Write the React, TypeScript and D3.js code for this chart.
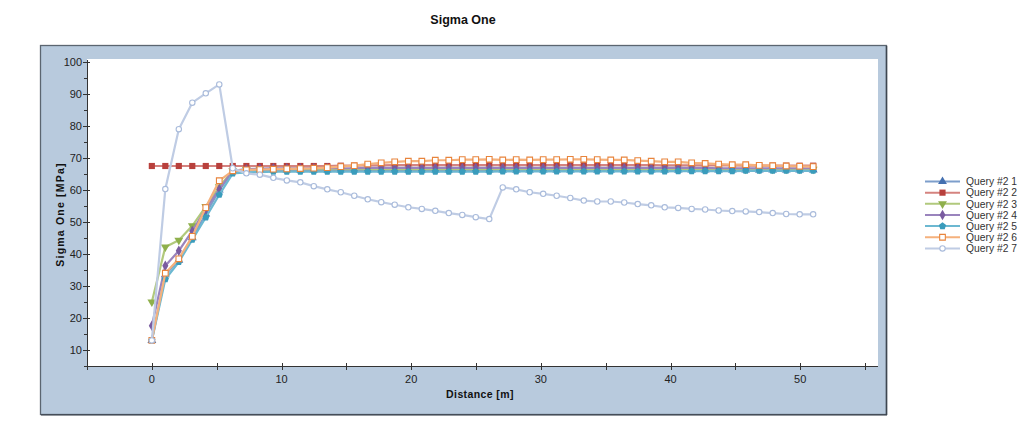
import React from "react";
import * as d3 from "d3";

const title = "Sigma One";
const xTitle = "Distance [m]";
const yTitle = "Sigma One [MPa]";

const distance = [
  0, 1.04, 2.08, 3.12, 4.16, 5.2, 6.24, 7.29, 8.33, 9.37,
  10.41, 11.45, 12.49, 13.53, 14.57, 15.61, 16.65, 17.69, 18.73, 19.78,
  20.82, 21.86, 22.9, 23.94, 24.98, 26.02, 27.06, 28.1, 29.14, 30.18,
  31.22, 32.27, 33.31, 34.35, 35.39, 36.43, 37.47, 38.51, 39.55, 40.59,
  41.63, 42.67, 43.71, 44.76, 45.8, 46.84, 47.88, 48.92, 49.96, 51.0,
];

const query1 = [
  13, 33.5, 38.1, 45.1, 52.5, 60.0, 65.8, 66.1, 66.2, 66.3,
  66.3, 66.3, 66.3, 66.3, 66.3, 66.3, 66.3, 66.3, 66.3, 66.3,
  66.3, 66.3, 66.3, 66.3, 66.3, 66.3, 66.3, 66.3, 66.3, 66.3,
  66.3, 66.3, 66.3, 66.3, 66.3, 66.3, 66.3, 66.3, 66.3, 66.3,
  66.3, 66.3, 66.3, 66.3, 66.3, 66.3, 66.3, 66.3, 66.3, 66.3,
];
const query2 = [
  67.5, 67.5, 67.5, 67.5, 67.5, 67.5, 67.5, 67.5, 67.5, 67.5,
  67.5, 67.5, 67.5, 67.5, 67.6, 67.6, 67.7, 67.7, 67.8, 67.8,
  67.8, 67.8, 67.8, 67.8, 67.8, 67.8, 67.8, 67.8, 67.8, 67.8,
  67.8, 67.8, 67.8, 67.8, 67.8, 67.8, 67.8, 67.8, 67.7, 67.7,
  67.7, 67.7, 67.7, 67.7, 67.6, 67.6, 67.6, 67.6, 67.6, 67.6,
];
const query3 = [
  25.0, 42.2, 44.3, 48.8, 54.8, 61.0, 66.0, 66.4, 66.5, 66.5,
  66.5, 66.5, 66.5, 66.5, 66.5, 66.5, 66.5, 66.5, 66.5, 66.5,
  66.5, 66.5, 66.5, 66.5, 66.5, 66.5, 66.5, 66.5, 66.5, 66.5,
  66.5, 66.5, 66.5, 66.5, 66.5, 66.5, 66.5, 66.5, 66.5, 66.5,
  66.5, 66.5, 66.5, 66.5, 66.5, 66.5, 66.5, 66.5, 66.5, 66.5,
];
const query4 = [
  17.6, 36.3, 41.0, 47.2, 54.0, 60.3, 66.0, 66.5, 66.7, 66.8,
  66.8, 66.8, 66.8, 66.8, 66.8, 66.8, 66.9, 66.9, 66.9, 66.9,
  66.9, 66.9, 66.9, 66.9, 66.9, 66.9, 66.9, 66.9, 66.9, 66.9,
  66.9, 66.9, 66.9, 66.9, 66.9, 66.9, 66.9, 66.9, 66.9, 66.9,
  66.9, 66.9, 66.8, 66.8, 66.8, 66.8, 66.8, 66.8, 66.8, 66.8,
];
const query5 = [
  13, 32.1, 37.5, 44.5, 51.4, 58.5, 65.2, 65.5, 65.6, 65.7,
  65.7, 65.7, 65.7, 65.7, 65.7, 65.7, 65.7, 65.7, 65.7, 65.7,
  65.7, 65.7, 65.7, 65.7, 65.7, 65.7, 65.8, 65.8, 65.8, 65.8,
  65.8, 65.8, 65.8, 65.8, 65.8, 65.8, 65.8, 65.8, 65.8, 65.9,
  65.9, 65.9, 65.9, 65.9, 66.0, 66.0, 66.0, 66.0, 66.0, 66.0,
];
const query6 = [
  13, 34.0, 38.5, 45.5, 54.5, 62.9, 66.0, 66.3, 66.4, 66.5,
  66.6, 66.7, 66.8, 67.0, 67.3, 67.6, 68.1, 68.5, 68.8, 69.0,
  69.0, 69.3, 69.3, 69.5, 69.5, 69.6, 69.4, 69.5, 69.4, 69.5,
  69.5, 69.6, 69.6, 69.5, 69.4, 69.4, 69.2, 69.0, 68.8, 68.8,
  68.5, 68.3, 68.1, 67.9, 67.9, 67.7, 67.6, 67.5, 67.4, 67.3,
];
const query7 = [
  13, 60.3, 79.0, 87.3, 90.2, 93.0, 66.8, 65.2, 64.8, 63.8,
  63.0, 62.4, 61.2, 60.2, 59.3, 58.2, 57.1, 56.2, 55.4, 54.6,
  54.1, 53.5, 52.8, 52.2, 51.5, 50.9, 60.8, 60.2, 59.3, 58.8,
  58.2, 57.5, 56.7, 56.4, 56.4, 56.1, 55.6, 55.2, 54.6, 54.4,
  54.1, 53.9, 53.6, 53.4, 53.3, 53.1, 52.8, 52.5, 52.4, 52.4,
];

const seriesNames = ["Query #2 1", "Query #2 2", "Query #2 3", "Query #2 4", "Query #2 5", "Query #2 6", "Query #2 7"];
const seriesValues = [query1, query2, query3, query4, query5, query6, query7];
const lineColors = ["#7d9ecb", "#d5837f", "#b1c97c", "#9a84bd", "#6cb8d1", "#f5b17c", "#bfcce4"];
const markerColors = ["#4470b0", "#b8403c", "#8fb04c", "#7a5ca0", "#3a9cbc", "#e8843c", "#a9bbdb"];
const markerKinds = ["triUp", "square", "triDown", "diamond", "pentagon", "openSquare", "openCircle"];

const yTicks = [10, 20, 30, 40, 50, 60, 70, 80, 90, 100];
const yMinor = [5, 15, 25, 35, 45, 55, 65, 75, 85, 95];
const xTicks = [0, 10, 20, 30, 40, 50];
const xMinor = [-5, 5, 15, 25, 35, 45, 55];

const W = 1023;
const H = 434;
const plot = { left: 87, right: 878, top: 59, bottom: 366 };

const x = d3.scaleLinear().domain([-5, 56]).range([plot.left, plot.right]);
const y = d3.scaleLinear().domain([5, 100]).range([plot.bottom, 62]);

const font = "Arial, 'Liberation Sans', sans-serif";

function pentagonPath(r: number) {
  const pts: [number, number][] = [];
  for (let i = 0; i < 5; i++) {
    const a = -Math.PI / 2 + (i * 2 * Math.PI) / 5;
    pts.push([r * Math.cos(a), r * Math.sin(a)]);
  }
  return "M" + pts.map((p) => p.join(",")).join("L") + "Z";
}

function Marker({ kind, color, cx, cy }: { kind: string; color: string; cx: number; cy: number }) {
  const t = `translate(${cx},${cy})`;
  if (kind === "triUp") {
    return <path transform={t} d={d3.symbol().type(d3.symbolTriangle).size(34)()!} fill={color} />;
  }
  if (kind === "triDown") {
    return <path transform={t + " rotate(180)"} d={d3.symbol().type(d3.symbolTriangle).size(34)()!} fill={color} />;
  }
  if (kind === "square") {
    return <path transform={t} d={d3.symbol().type(d3.symbolSquare).size(38)()!} fill={color} />;
  }
  if (kind === "diamond") {
    return <path transform={t} d={d3.symbol().type(d3.symbolDiamond).size(32)()!} fill={color} />;
  }
  if (kind === "pentagon") {
    return <path transform={t} d={pentagonPath(3.8)} fill={color} />;
  }
  if (kind === "openSquare") {
    return <path transform={t} d={d3.symbol().type(d3.symbolSquare).size(32)()!} fill="#fff" stroke={color} strokeWidth={1.1} />;
  }
  return <circle cx={cx} cy={cy} r={2.7} fill="#fff" stroke={color} strokeWidth={1.1} />;
}

export default function App() {
  const line = d3
    .line<number>()
    .x((_, i) => x(distance[i]))
    .y((d) => y(d));

  const legendX = 925;
  const legendY0 = 181.5;
  const legendStep = 11.15;

  return (
    <svg width={W} height={H} style={{ position: "absolute", left: 0, top: 0, background: "#fff" }} fontFamily={font}>
      <text x={463} y={24} textAnchor="middle" fontSize={12.5} fontWeight="bold" fill="#111">
        {title}
      </text>

      <rect x={40.5} y={45.5} width={846} height={369} fill="#b8cadd" stroke="#5b6570" strokeWidth={1.3} />
      <line x1={886.5} y1={46} x2={886.5} y2={415} stroke="#3e4650" strokeWidth={1.5} />
      <line x1={41} y1={414.8} x2={887} y2={414.8} stroke="#3e4650" strokeWidth={1.2} />
      <rect x={plot.left} y={plot.top} width={plot.right - plot.left} height={plot.bottom - plot.top} fill="#fff" />

      <line x1={plot.left + 0.5} y1={plot.top + 1} x2={plot.left + 0.5} y2={plot.bottom} stroke="#333" strokeWidth={1} />
      <line x1={plot.left} y1={plot.bottom + 0.5} x2={plot.right} y2={plot.bottom + 0.5} stroke="#333" strokeWidth={1} />

      {yTicks.map((v) => (
        <g key={"yt" + v}>
          <line x1={plot.left - 4} x2={plot.left + 3} y1={Math.round(y(v)) + 0.5} y2={Math.round(y(v)) + 0.5} stroke="#333" />
          <text x={plot.left - 5} y={y(v) + 4} textAnchor="end" fontSize={11} fill="#222">
            {v}
          </text>
        </g>
      ))}
      {yMinor.map((v) => (
        <line key={"ym" + v} x1={plot.left - 3} x2={plot.left} y1={Math.round(y(v)) + 0.5} y2={Math.round(y(v)) + 0.5} stroke="#333" />
      ))}
      {xMinor.map((v) => (
        <line key={"xm" + v} x1={Math.round(x(v)) + 0.5} x2={Math.round(x(v)) + 0.5} y1={plot.bottom - 3} y2={plot.bottom + 4} stroke="#333" />
      ))}
      {xTicks.map((v) => (
        <g key={"xt" + v}>
          <line x1={Math.round(x(v)) + 0.5} x2={Math.round(x(v)) + 0.5} y1={plot.bottom - 3} y2={plot.bottom + 4} stroke="#333" />
          <text x={x(v)} y={383} textAnchor="middle" fontSize={11} fill="#222">
            {v}
          </text>
        </g>
      ))}

      <text x={480} y={398} textAnchor="middle" fontSize={10.5} fontWeight="bold" fill="#111" letterSpacing={0.4}>
        {xTitle}
      </text>
      <text
        transform={`translate(64,${(plot.top + plot.bottom) / 2 + 2}) rotate(-90)`}
        textAnchor="middle"
        fontSize={10.5}
        fontWeight="bold"
        fill="#111"
        letterSpacing={1.2}
      >
        {yTitle}
      </text>

      {seriesValues.map((vals, s) => (
        <g key={"s" + s}>
          <path d={line(vals)!} fill="none" stroke={lineColors[s]} strokeWidth={2.2} strokeLinejoin="round" />
          {vals.map((v, i) => (
            <Marker key={i} kind={markerKinds[s]} color={markerColors[s]} cx={x(distance[i])} cy={y(v)} />
          ))}
        </g>
      ))}

      {seriesNames.map((name, s) => {
        const ly = legendY0 + s * legendStep;
        return (
          <g key={"lg" + s}>
            <line x1={legendX} x2={legendX + 35} y1={ly} y2={ly} stroke={lineColors[s]} strokeWidth={2} />
            <Marker kind={markerKinds[s]} color={markerColors[s]} cx={legendX + 17.5} cy={ly} />
            <text x={966} y={ly + 3.7} fontSize={10.3} fill="#333">
              {name}
            </text>
          </g>
        );
      })}
    </svg>
  );
}
